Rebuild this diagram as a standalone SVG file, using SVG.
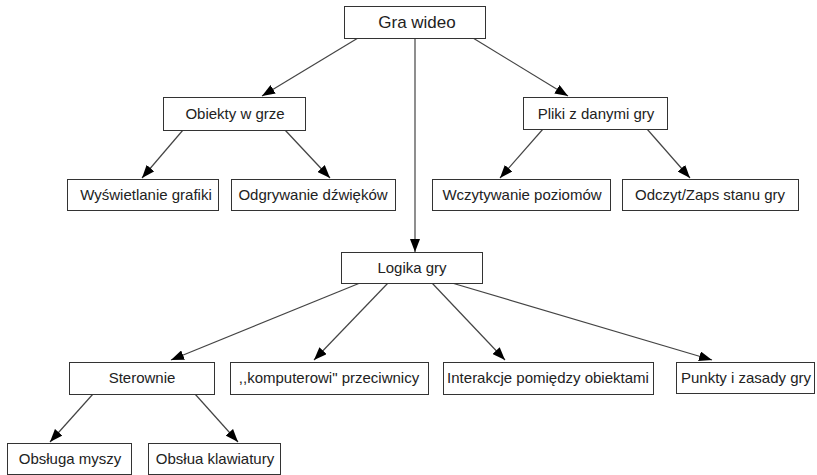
<svg xmlns="http://www.w3.org/2000/svg" width="817" height="475" viewBox="0 0 817 475">
  <style>
    .box { fill: #ffffff; stroke: #333333; stroke-width: 1; }
    .lbl { font-family: "Liberation Sans", Arial, sans-serif; font-size: 15px; fill: #222222; text-anchor: middle; }
    .title { font-size: 17px; }
    .edge { stroke: #444444; stroke-width: 1.2; fill: none; marker-end: url(#arrow); }
  </style>
  <defs>
    <marker id="arrow" markerUnits="userSpaceOnUse" markerWidth="14" markerHeight="10" refX="13" refY="5" orient="auto">
      <path d="M0,0 L13,5 L0,10 Z" fill="#000000"/>
    </marker>
  </defs>
  <rect width="817" height="475" fill="#ffffff"/>

  <g id="connectors">
    <line class="edge" x1="358" y1="38" x2="262" y2="96"/>
    <line class="edge" x1="473" y1="38" x2="568" y2="96"/>
    <line class="edge" x1="415" y1="38" x2="415" y2="252"/>
    <line class="edge" x1="183" y1="130" x2="142" y2="178"/>
    <line class="edge" x1="285" y1="130" x2="330" y2="178"/>
    <line class="edge" x1="543" y1="129" x2="500" y2="178"/>
    <line class="edge" x1="647" y1="129" x2="690" y2="178"/>
    <line class="edge" x1="360" y1="283" x2="171" y2="360"/>
    <line class="edge" x1="388" y1="283" x2="314" y2="360"/>
    <line class="edge" x1="432" y1="283" x2="505" y2="360"/>
    <line class="edge" x1="452" y1="283" x2="712" y2="360"/>
    <line class="edge" x1="93" y1="394" x2="50" y2="442"/>
    <line class="edge" x1="195" y1="394" x2="238" y2="442"/>
  </g>

  <g id="gra-wideo">
    <rect class="box" x="344.5" y="6.5" width="141" height="32"/>
    <text class="lbl title" x="417" y="28">Gra wideo</text>
  </g>
  <g id="obiekty">
    <rect class="box" x="163.5" y="97.5" width="142" height="33"/>
    <text class="lbl" x="235" y="119">Obiekty w grze</text>
  </g>
  <g id="pliki">
    <rect class="box" x="523.5" y="97.5" width="144" height="32"/>
    <text class="lbl" x="596" y="119">Pliki z danymi gry</text>
  </g>
  <g id="wyswietlanie">
    <rect class="box" x="67.5" y="179.5" width="151" height="31"/>
    <text class="lbl" x="146" y="200">Wyświetlanie grafiki</text>
  </g>
  <g id="odgrywanie">
    <rect class="box" x="231.5" y="179.5" width="164" height="31"/>
    <text class="lbl" x="313" y="200">Odgrywanie dźwięków</text>
  </g>
  <g id="wczytywanie">
    <rect class="box" x="432.5" y="179.5" width="178" height="31"/>
    <text class="lbl" x="522" y="200">Wczytywanie poziomów</text>
  </g>
  <g id="odczyt">
    <rect class="box" x="622.5" y="179.5" width="176" height="31"/>
    <text class="lbl" x="710" y="200">Odczyt/Zaps stanu gry</text>
  </g>
  <g id="logika">
    <rect class="box" x="341.5" y="252.5" width="141" height="31"/>
    <text class="lbl" x="412" y="273">Logika gry</text>
  </g>
  <g id="sterownie">
    <rect class="box" x="69.5" y="362.5" width="145" height="32"/>
    <text class="lbl" x="142" y="383">Sterownie</text>
  </g>
  <g id="przeciwnicy">
    <rect class="box" x="230.5" y="362.5" width="198" height="32"/>
    <text class="lbl" x="329" y="383">,,komputerowi" przeciwnicy</text>
  </g>
  <g id="interakcje">
    <rect class="box" x="443.5" y="362.5" width="210" height="32"/>
    <text class="lbl" x="548" y="383">Interakcje pomiędzy obiektami</text>
  </g>
  <g id="punkty">
    <rect class="box" x="676.5" y="362.5" width="138" height="31"/>
    <text class="lbl" x="746" y="383">Punkty i zasady gry</text>
  </g>
  <g id="mysz">
    <rect class="box" x="7.5" y="443.5" width="124" height="31"/>
    <text class="lbl" x="70" y="464">Obsługa myszy</text>
  </g>
  <g id="klawiatura">
    <rect class="box" x="148.5" y="443.5" width="132" height="31"/>
    <text class="lbl" x="215" y="464">Obsłua klawiatury</text>
  </g>
</svg>
